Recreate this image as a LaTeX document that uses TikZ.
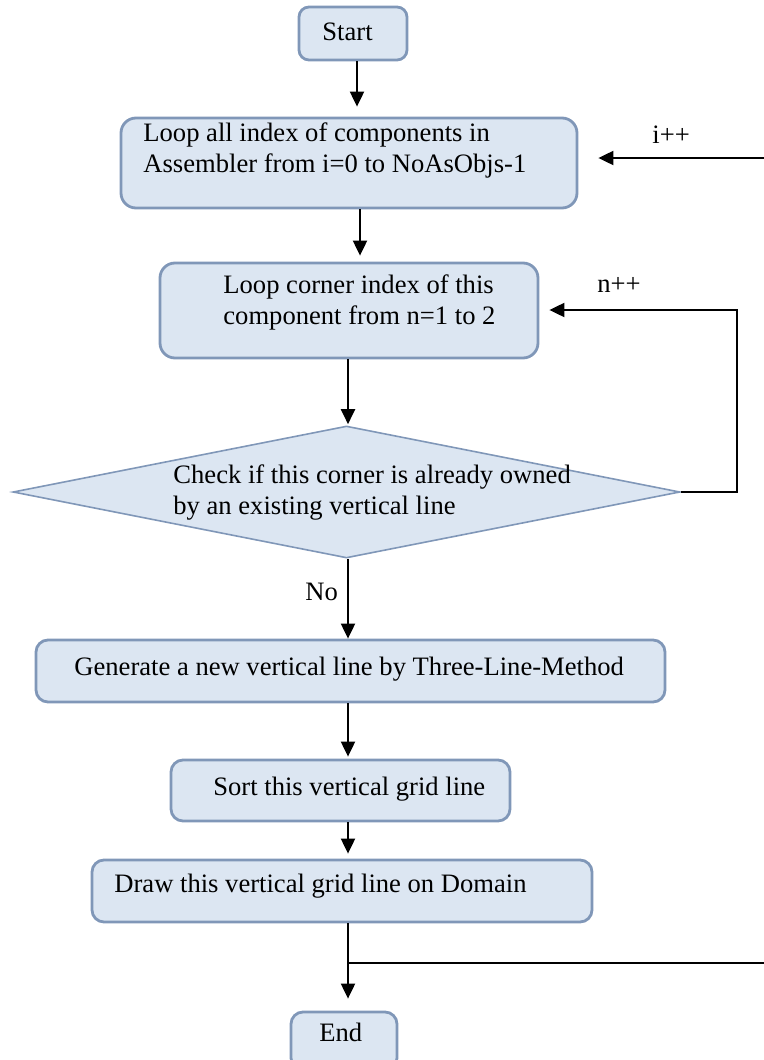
\documentclass[tikz,border=0pt]{standalone}
\usepackage{fontspec}
\setmainfont{Liberation Serif}
\usetikzlibrary{shapes.geometric,arrows.meta,fit}
\definecolor{boxfill}{HTML}{DCE6F2}
\definecolor{boxline}{HTML}{8097B8}
\newcommand{\twolines}[2]{\begin{tabular}[t]{@{}l@{}}#1\\#2\end{tabular}}

\begin{document}
\begin{tikzpicture}[x=0.5pt,y=-0.5pt,
  box/.style={draw=boxline, line width=1.4pt, fill=boxfill, rounded corners=6pt, inner sep=0pt},
  decision/.style={diamond, draw=boxline, line width=0.8pt, fill=boxfill, inner sep=0pt,
    minimum width=333.5pt, minimum height=66pt},
  lbl/.style={font=\fontsize{13.3}{15.6}\selectfont, inner sep=0pt, anchor=base west},
  flow/.style={line width=1pt, -{Triangle[length=7.5pt,width=7pt]}},
  wire/.style={line width=1pt}]

\clip (0,0) rectangle (764,1060);

% process boxes and decision
\node[box, rounded corners=5pt, fit={(299,7) (407,60)}] (start) {};
\node[lbl] (startT) at (322,40) {Start};

\node[box, rounded corners=7.5pt, fit={(121,118) (577,208)}] (assem) {};
\node[lbl] (assemT) at (143,141) {\twolines{Loop all index of components in}{Assembler from i=0 to NoAsObjs-1}};

\node[box, rounded corners=7.5pt, fit={(160,263) (538,358)}] (corner) {};
\node[lbl] (cornerT) at (223,293) {\twolines{Loop corner index of this}{component from n=1 to 2}};

\node[decision] (check) at (346.5,492) {};
\node[lbl] (checkT) at (173,483) {\twolines{Check if this corner is already owned}{by an existing vertical line}};

\node[box, fit={(36,640) (665,702)}] (gen) {};
\node[lbl] (genT) at (74,675) {Generate a new vertical line by Three-Line-Method};

\node[box, fit={(171,760) (510,821)}] (sort) {};
\node[lbl] (sortT) at (213,795) {Sort this vertical grid line};

\node[box, fit={(92,860) (592,922)}] (drawg) {};
\node[lbl] (drawgT) at (114,892) {Draw this vertical grid line on Domain};

\node[box, fit={(291,1012) (397,1070)}] (end) {};
\node[lbl] (endT) at (319,1041) {End};

% edge labels
\node[lbl] (noL) at (305,600) {No};
\node[lbl] (iL) at (652,143) {i++};
\node[lbl] (nL) at (597,292) {n++};

% routing points
\coordinate (spine) at (348,0);
\coordinate (iin) at (764,158);
\coordinate (iout) at (764,963);
\coordinate (nturn) at (737,310);

% main flow
\draw[flow, shorten >=5pt] ([xshift=2pt]start.south) -- ([xshift=2pt]start.south |- assem.north);
\draw[flow, shorten >=3pt] ([xshift=5.5pt]assem.south) -- ([xshift=5.5pt]assem.south |- corner.north);
\draw[flow, shorten >=0.5pt] (corner.south -| spine) -- (check.north -| spine);
\draw[flow] (check.south -| spine) -- (gen.north -| spine);
\draw[flow, shorten >=1pt] (gen.south -| spine) -- (sort.north -| spine);
\draw[flow, shorten >=2.5pt] (sort.south -| spine) -- (drawg.north -| spine);
\draw[flow, shorten >=6pt] (drawg.south -| spine) -- (end.north -| spine);

% loop returns
\draw[wire] (iout) -- (iout -| spine);
\draw[flow, shorten >=10pt] (iin) -- (iin -| assem.east);
\draw[flow, shorten >=5pt] (check.east) -- (check.east -| nturn) -- (nturn) -- (nturn -| corner.east);
\end{tikzpicture}
\end{document}
